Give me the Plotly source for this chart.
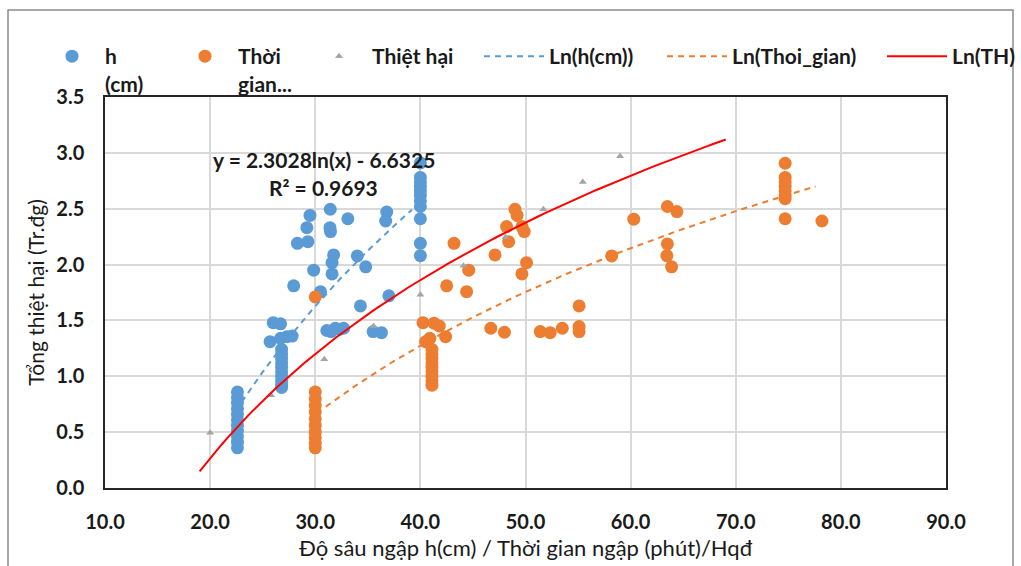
import numpy as np
import plotly.graph_objects as go

# ---- data ----
h_x = [22.6]*11 + [26.8]*10 + [26.0, 26.7, 25.7, 26.7, 27.3, 27.8, 27.95, 28.3, 29.3, 29.2, 29.5, 29.85, 30.5,
       31.43, 31.4, 31.45, 31.75, 31.6, 31.6, 33.1, 34.0, 34.8, 34.3, 36.8, 36.7, 37.0, 35.5, 36.3,
       31.1, 31.5, 31.9, 32.3, 32.7] + [40.0]*11
h_y = [0.86, 0.81, 0.76, 0.71, 0.66, 0.61, 0.56, 0.51, 0.46, 0.41, 0.36,
       1.24, 1.20, 1.16, 1.12, 1.08, 1.04, 1.00, 0.96, 0.92, 0.90,
       1.48, 1.47, 1.31, 1.34, 1.355, 1.36, 1.81, 2.19, 2.205, 2.33, 2.44, 1.95, 1.757,
       2.495, 2.33, 2.295, 2.086, 2.017, 1.916, 2.41, 2.077, 1.98, 1.63, 2.47, 2.39, 1.72, 1.40, 1.39,
       1.41, 1.40, 1.43, 1.42, 1.43,
       2.91, 2.78, 2.74, 2.70, 2.66, 2.62, 2.57, 2.52, 2.41, 2.19, 2.08]

tg_x = [30.0]*10 + [30.0, 40.25, 41.3, 41.8, 42.4, 40.9, 40.5] + [41.1]*9 + \
       [42.5, 43.2, 44.4, 44.6, 46.7, 47.1, 48.0, 48.2, 48.4, 49.0, 49.2, 49.66, 49.88, 49.66, 50.1,
        51.4, 52.35, 53.5, 55.1, 55.1, 55.1, 58.2, 60.3, 63.5, 64.4, 63.5, 63.45, 63.9] + \
       [74.7]*8 + [78.2]
tg_y = [0.86, 0.80, 0.74, 0.68, 0.62, 0.56, 0.50, 0.45, 0.40, 0.36,
        1.71, 1.48, 1.475, 1.45, 1.355, 1.34, 1.31,
        1.24, 1.20, 1.16, 1.12, 1.08, 1.04, 1.00, 0.96, 0.92,
        1.81, 2.19, 1.757, 1.95, 1.43, 2.086, 1.394, 2.34, 2.205, 2.495, 2.44, 2.34, 2.295, 1.916, 2.017,
        1.40, 1.39, 1.43, 1.445, 1.40, 1.63, 2.077, 2.406, 2.52, 2.474, 2.185, 2.08, 1.98,
        2.907, 2.78, 2.74, 2.70, 2.66, 2.62, 2.59, 2.41, 2.39]

th_x = [20.0, 25.8, 30.86, 35.55, 40.0, 44.1, 48.1, 51.7, 55.45, 59.0]
th_y = [0.495, 0.83, 1.152, 1.45, 1.73, 1.99, 2.245, 2.495, 2.74, 2.97]

# logarithmic trendlines: (a, b, x_start, x_end)  y = a*ln(x) + b
trend_h = (3.226, -9.345, 23.0, 39.2)
trend_tg = (2.149, -6.652, 31.0, 77.6)
trend_th = (2.3028, -6.6325, 19.0, 69.05)

x_ticks = [10, 20, 30, 40, 50, 60, 70, 80, 90]
y_ticks = [0.0, 0.5, 1.0, 1.5, 2.0, 2.5, 3.0, 3.5]

BLUE, ORANGE, GRAY, RED = "#5B9BD5", "#ED7D31", "#A5A5A5", "#FF0000"
FONT = "Lato"
TXT = "#1a1a1a"

def trend(t):
    a, b, x0, x1 = t
    xs = np.linspace(x0, x1, 120)
    return xs, a*np.log(xs) + b

fig = go.Figure()
fig.add_trace(go.Scatter(x=h_x, y=h_y, mode="markers", name="h<br>(cm)",
                         marker=dict(color=BLUE, size=13), legend="legend"))
fig.add_trace(go.Scatter(x=tg_x, y=tg_y, mode="markers", name="Thời<br>gian...",
                         marker=dict(color=ORANGE, size=13), legend="legend2"))
fig.add_trace(go.Scatter(x=th_x, y=th_y, mode="markers", name="Thiệt hại",
                         marker=dict(color=GRAY, size=7, symbol="triangle-up"), legend="legend3"))
xs, ys = trend(trend_h)
fig.add_trace(go.Scatter(x=xs, y=ys, mode="lines", name="Ln(h(cm))",
                         line=dict(color=BLUE, width=2, dash="6px,5px"), legend="legend4"))
xs, ys = trend(trend_tg)
fig.add_trace(go.Scatter(x=xs, y=ys, mode="lines", name="Ln(Thoi_gian)",
                         line=dict(color=ORANGE, width=2, dash="6px,5px"), legend="legend5"))
xs, ys = trend(trend_th)
fig.add_trace(go.Scatter(x=xs, y=ys, mode="lines", name="Ln(TH)",
                         line=dict(color=RED, width=2), legend="legend6"))

L, R, T, B = 105, 75, 97, 78
PW, PH = 1021 - L - R, 566 - T - B

def px2paper_x(px):
    return (px - L) / PW

def px2paper_y(py):
    return (566 - B - py) / PH

legend_font = dict(family=FONT, size=21, color=TXT, weight="bold")
leg_common = dict(orientation="h", yanchor="top", xanchor="left", valign="top",
                  bgcolor="rgba(0,0,0,0)", font=legend_font, tracegroupgap=0)
starts = [39, 172, 306, 479, 662, 882]
widths = [56, 56, 56, 60, 60, 60]
legends = {}
for i, (sx, w) in enumerate(zip(starts, widths)):
    key = "legend" if i == 0 else f"legend{i+1}"
    legends[key] = dict(leg_common, x=px2paper_x(sx), y=px2paper_y(36), itemwidth=w)

fig.update_layout(
    width=1021, height=566,
    margin=dict(l=L, r=R, t=T, b=B, autoexpand=False),
    paper_bgcolor="white", plot_bgcolor="white",
    font=dict(family=FONT, color=TXT),
    showlegend=True,
    **legends,
    xaxis=dict(range=[10, 90], tickvals=x_ticks, tickformat=".1f",
               showgrid=True, gridcolor="#D9D9D9", gridwidth=2,
               showline=True, linecolor="#262626", linewidth=1.5, mirror=True,
               zeroline=False, ticks="", ticklabelstandoff=15, automargin=False,
               tickfont=dict(family=FONT, size=20, weight="bold", color=TXT),
               title=dict(text="Độ sâu ngập h(cm) / Thời gian ngập (phút)/Hqđ",
                          font=dict(family=FONT, size=22, color=TXT), standoff=9)),
    yaxis=dict(range=[0, 3.5], tickvals=y_ticks, tickformat=".1f",
               showgrid=True, gridcolor="#D9D9D9", gridwidth=2,
               showline=True, linecolor="#262626", linewidth=1.5, mirror=True,
               zeroline=False, ticks="", ticklabelstandoff=15, automargin=False,
               tickfont=dict(family=FONT, size=20, weight="bold", color=TXT),
               title=dict(text="Tổng thiệt hại (Tr.đg)",
                          font=dict(family=FONT, size=21, color=TXT), standoff=6)),
)

# equation of the Ln(TH) trendline
fig.add_annotation(x=30.8, y=2.94, xref="x", yref="y", showarrow=False,
                   text=f"y = {trend_th[0]:.4f}ln(x) - {abs(trend_th[1]):.4f}",
                   font=dict(family=FONT, size=21, weight="bold", color=TXT))
fig.add_annotation(x=30.8, y=2.69, xref="x", yref="y", showarrow=False,
                   text="R² = 0.9693",
                   font=dict(family=FONT, size=21, weight="bold", color=TXT))

# outer chart-area border
fig.add_shape(type="rect", xref="paper", yref="paper",
              x0=px2paper_x(8), x1=px2paper_x(1013), y0=px2paper_y(575), y1=px2paper_y(10),
              line=dict(color="#8C8C8C", width=1.5), fillcolor="rgba(0,0,0,0)", layer="below")

fig.write_html("out.html")
